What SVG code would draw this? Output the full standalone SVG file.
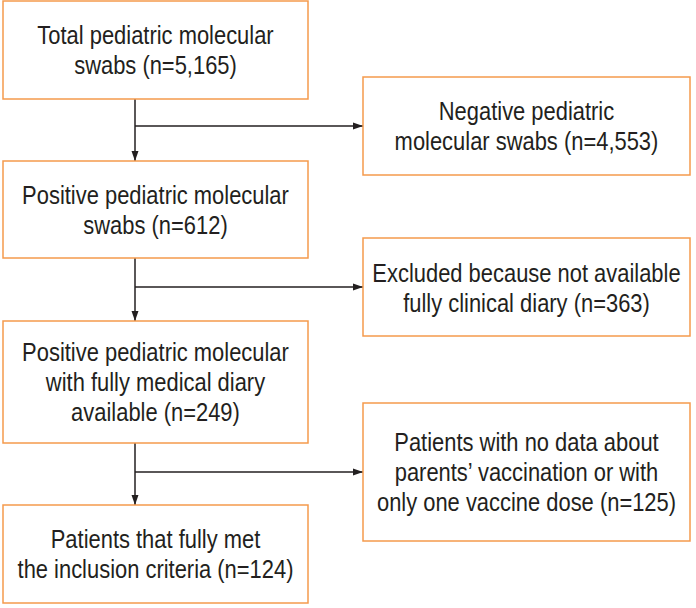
<svg xmlns="http://www.w3.org/2000/svg" width="696" height="608" viewBox="0 0 696 608">
<style>
.box{fill:#ffffff;stroke:#F59A4C;stroke-width:1.5}
.t{font-family:"Liberation Sans",Arial,sans-serif;font-size:25.5px;fill:#231F20;text-anchor:middle;dominant-baseline:central}
.c{fill:none;stroke:#231F20;stroke-width:1.5}
</style>
<defs>
<marker id="ah" viewBox="0 0 10 10" refX="10" refY="5" markerWidth="10" markerHeight="10" markerUnits="userSpaceOnUse" orient="auto">
<path d="M0,1.5 L10,5 L0,8.5 Z" fill="#231F20"/>
</marker>
</defs>
<rect width="696" height="608" fill="#ffffff"/>
<g id="connectors">
<path class="c" d="M135,99 V161" marker-end="url(#ah)"/>
<path class="c" d="M135,126 H363" marker-end="url(#ah)"/>
<path class="c" d="M135,258 V321" marker-end="url(#ah)"/>
<path class="c" d="M135,287 H363" marker-end="url(#ah)"/>
<path class="c" d="M135,443 V505" marker-end="url(#ah)"/>
<path class="c" d="M135,472 H363" marker-end="url(#ah)"/>
</g>
<g id="total">
<rect class="box" x="3" y="1" width="305" height="98"/>
<g transform="matrix(0.86 0 0 1 21.77 0)">
<text class="t" x="155.5" y="35">Total pediatric molecular</text>
<text class="t" x="155.5" y="65">swabs (n=5,165)</text>
</g>
</g>
<g id="negative">
<rect class="box" x="363" y="77" width="327" height="98"/>
<g transform="matrix(0.86 0 0 1 73.71 0)">
<text class="t" x="526.5" y="111">Negative pediatric</text>
<text class="t" x="526.5" y="141">molecular swabs (n=4,553)</text>
</g>
</g>
<g id="positive">
<rect class="box" x="3" y="161" width="305" height="97"/>
<g transform="matrix(0.86 0 0 1 21.77 0)">
<text class="t" x="155.5" y="195">Positive pediatric molecular</text>
<text class="t" x="155.5" y="225">swabs (n=612)</text>
</g>
</g>
<g id="excluded">
<rect class="box" x="363" y="238" width="327" height="98"/>
<g transform="matrix(0.86 0 0 1 73.71 0)">
<text class="t" x="526.5" y="273">Excluded because not available</text>
<text class="t" x="526.5" y="303">fully clinical diary (n=363)</text>
</g>
</g>
<g id="positiveFull">
<rect class="box" x="3" y="321" width="305" height="122"/>
<g transform="matrix(0.86 0 0 1 21.77 0)">
<text class="t" x="155.5" y="352">Positive pediatric molecular</text>
<text class="t" x="155.5" y="382">with fully medical diary</text>
<text class="t" x="155.5" y="412">available (n=249)</text>
</g>
</g>
<g id="noData">
<rect class="box" x="363" y="403" width="327" height="138"/>
<g transform="matrix(0.86 0 0 1 73.71 0)">
<text class="t" x="526.5" y="442">Patients with no data about</text>
<text class="t" x="526.5" y="472">parents’ vaccination or with</text>
<text class="t" x="526.5" y="502">only one vaccine dose (n=125)</text>
</g>
</g>
<g id="included">
<rect class="box" x="3" y="505" width="305" height="98"/>
<g transform="matrix(0.86 0 0 1 21.77 0)">
<text class="t" x="155.5" y="539">Patients that fully met</text>
<text class="t" x="155.5" y="569">the inclusion criteria (n=124)</text>
</g>
</g>
</svg>
